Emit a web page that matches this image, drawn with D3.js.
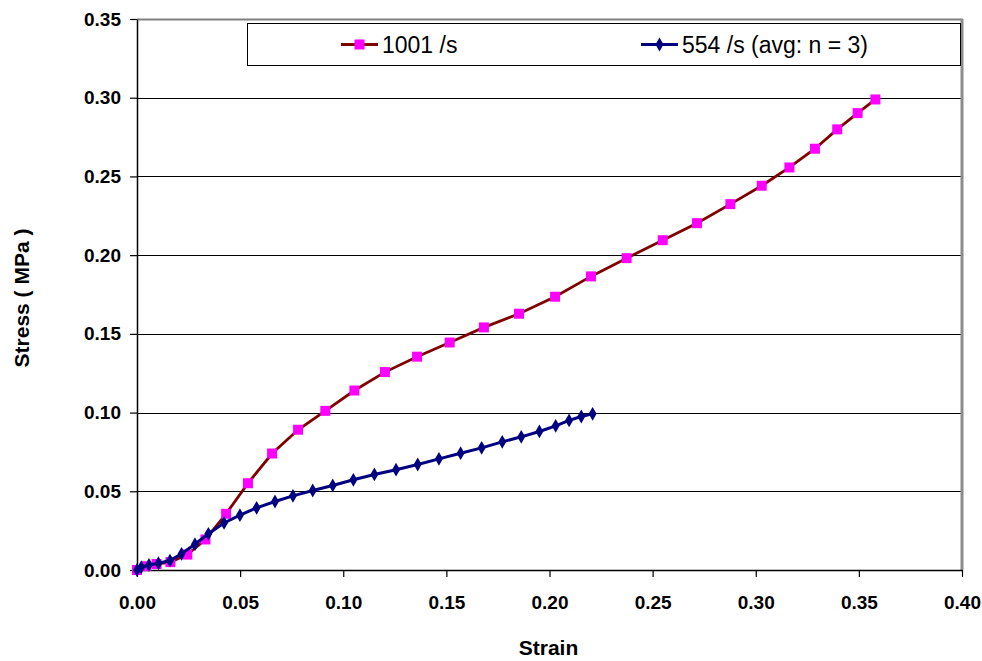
<!DOCTYPE html>
<html>
<head>
<meta charset="utf-8">
<script src="https://cdn.jsdelivr.net/npm/d3@7"></script>
<style>
  body { margin: 0; background: #fff; }
  svg { display: block; font-family: Arial, "Liberation Sans", sans-serif; }
</style>
</head>
<body>
<svg width="982" height="661"></svg>
<script>
/**
 * Data.
 */
const strain1001 = [0, 0.0045, 0.0095, 0.0162, 0.0244, 0.0332, 0.0432, 0.0538, 0.0655, 0.0781,
    0.0913, 0.1054, 0.1202, 0.1358, 0.1516, 0.1682, 0.1852, 0.2027, 0.2201, 0.2374,
    0.2549, 0.2715, 0.2877, 0.3029, 0.3163, 0.3287, 0.3395, 0.3494, 0.3580];
const stress1001 = [0, 0.0024, 0.0038, 0.0050, 0.0098, 0.0194, 0.0357, 0.0551, 0.0740, 0.0891,
    0.1011, 0.1140, 0.1257, 0.1355, 0.1445, 0.1541, 0.1628, 0.1736, 0.1865, 0.1981,
    0.2095, 0.2203, 0.2324, 0.2441, 0.2557, 0.2676, 0.2799, 0.2902, 0.2989];

const strain554 = [0, 0.0021, 0.0058, 0.0104, 0.0160, 0.0216, 0.0281, 0.0346, 0.0422, 0.0499,
    0.0580, 0.0669, 0.0756, 0.0852, 0.0949, 0.1049, 0.1151, 0.1256, 0.1361, 0.1464,
    0.1569, 0.1671, 0.1771, 0.1863, 0.1951, 0.2030, 0.2095, 0.2154, 0.2209];
const stress554 = [0, 0.0018, 0.0032, 0.0043, 0.0060, 0.0103, 0.0164, 0.0230, 0.0299, 0.0348,
    0.0395, 0.0435, 0.0471, 0.0505, 0.0537, 0.0573, 0.0607, 0.0637, 0.0670, 0.0706,
    0.0742, 0.0776, 0.0814, 0.0846, 0.0880, 0.0916, 0.0950, 0.0975, 0.0992];

const xTicks = [0, 0.05, 0.10, 0.15, 0.20, 0.25, 0.30, 0.35, 0.40];
const yTicks = [0, 0.05, 0.10, 0.15, 0.20, 0.25, 0.30, 0.35];
const seriesNames = ['1001 /s', '554 /s (avg: n = 3)'];

/**
 * Set stuff up.
 */
const margin = { top: 19, right: 20, bottom: 91, left: 137 };
const width = 982 - margin.left - margin.right;   // 825
const height = 661 - margin.top - margin.bottom;  // 551

const svg = d3.select('svg');
const g = svg.append('g')
    .attr('transform', `translate(${margin.left},${margin.top})`);

const x = d3.scaleLinear().domain([0, 0.40]).range([0, width]);
const y = d3.scaleLinear().domain([0, 0.35]).range([height, 0]);

// gridlines
g.append('g')
    .selectAll('line')
    .data(yTicks.filter(d => d > 0 && d < 0.35))
    .enter()
    .append('line')
    .attr('x1', 0)
    .attr('x2', width)
    .attr('y1', d => Math.round(y(d)) + 0.5)
    .attr('y2', d => Math.round(y(d)) + 0.5)
    .attr('stroke', '#000')
    .attr('stroke-width', 1);

// top and right border of the plot area
g.append('line')
    .attr('x1', 0).attr('x2', width + 1)
    .attr('y1', 0.5).attr('y2', 0.5)
    .attr('stroke', '#808080').attr('stroke-width', 2);
g.append('line')
    .attr('x1', width).attr('x2', width)
    .attr('y1', 0).attr('y2', height)
    .attr('stroke', '#8c8c8c').attr('stroke-width', 3);

/**
 * Axes.
 */
const fmt = d3.format('.2f');

const xAxis = g.append('g')
    .attr('transform', `translate(0,${height})`)
    .call(d3.axisBottom(x).tickValues(xTicks).tickFormat(fmt).tickSize(7).tickSizeOuter(0).tickPadding(19));

const yAxis = g.append('g')
    .call(d3.axisLeft(y).tickValues(yTicks).tickFormat(fmt).tickSize(7).tickSizeOuter(0).tickPadding(9));

[xAxis, yAxis].forEach(a => {
    a.select('.domain').attr('stroke', '#000').attr('stroke-width', 1.5);
    a.selectAll('.tick line').attr('stroke', '#000').attr('stroke-width', 1.2);
    a.selectAll('.tick text')
        .attr('font-family', 'Arial, "Liberation Sans", sans-serif')
        .attr('font-size', 19)
        .attr('font-weight', 'bold')
        .attr('fill', '#000');
});

// axis titles
svg.append('text')
    .attr('x', margin.left + x(0.20) - 1)
    .attr('y', 655)
    .attr('text-anchor', 'middle')
    .attr('font-size', 21)
    .attr('font-weight', 'bold')
    .text('Strain');

svg.append('text')
    .attr('transform', 'translate(29,298) rotate(-90)')
    .attr('text-anchor', 'middle')
    .attr('font-size', 21)
    .attr('font-weight', 'bold')
    .text('Stress ( MPa )');

/**
 * Series.
 */
const line = d3.line().x(d => x(d[0])).y(d => y(d[1]));
const pts1001 = strain1001.map((s, i) => [s, stress1001[i]]);
const pts554 = strain554.map((s, i) => [s, stress554[i]]);

const square = d3.symbol().type(d3.symbolSquare).size(100);
const diamond = d3.symbol().type(d3.symbolDiamond).size(55);

g.append('path')
    .datum(pts1001)
    .attr('fill', 'none')
    .attr('stroke', '#800000')
    .attr('stroke-width', 2.8)
    .attr('d', line);

g.append('g')
    .selectAll('path')
    .data(pts1001)
    .enter()
    .append('path')
    .attr('transform', d => `translate(${x(d[0])},${y(d[1])})`)
    .attr('d', square)
    .attr('fill', '#ff00ff');

g.append('path')
    .datum(pts554)
    .attr('fill', 'none')
    .attr('stroke', '#000080')
    .attr('stroke-width', 3)
    .attr('d', line);

g.append('g')
    .selectAll('path')
    .data(pts554)
    .enter()
    .append('path')
    .attr('transform', d => `translate(${x(d[0])},${y(d[1])})`)
    .attr('d', diamond)
    .attr('fill', '#000080');

/**
 * Legend.
 */
const legend = svg.append('g');
legend.append('rect')
    .attr('x', 247.5).attr('y', 23.5)
    .attr('width', 713).attr('height', 42)
    .attr('fill', '#fff')
    .attr('stroke', '#000')
    .attr('stroke-width', 1);

const legendItems = [
    { name: seriesNames[0], x0: 341, color: '#800000', fill: '#ff00ff', sym: square },
    { name: seriesNames[1], x0: 641, color: '#000080', fill: '#000080', sym: diamond }
];

const li = legend.selectAll('.item')
    .data(legendItems)
    .enter()
    .append('g')
    .attr('class', 'item')
    .attr('transform', d => `translate(${d.x0},44.5)`);

li.append('line')
    .attr('x1', 0).attr('x2', 37)
    .attr('stroke', d => d.color)
    .attr('stroke-width', 3);

li.append('path')
    .attr('transform', 'translate(18.5,0)')
    .attr('d', d => d.sym())
    .attr('fill', d => d.fill);

li.append('text')
    .attr('x', 41)
    .attr('y', 8)
    .attr('font-size', 23)
    .attr('fill', '#000')
    .text(d => d.name);
</script>
</body>
</html>
